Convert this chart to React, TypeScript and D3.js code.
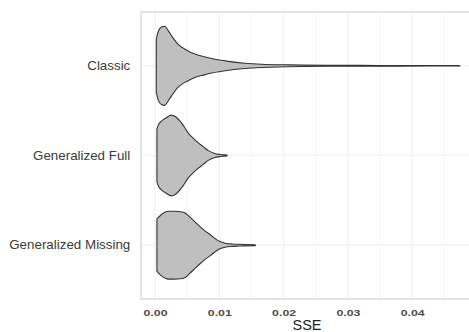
import React, { useRef, useEffect } from 'react';
import * as d3 from 'd3';

// Groups, top to bottom
const categories = ['Classic', 'Generalized Full', 'Generalized Missing'];

// Density profile of each violin (SSE value, relative density)
const classicSSE = [0.0002, 0.0005, 0.001, 0.0015, 0.0021, 0.0026, 0.0036, 0.005, 0.0062, 0.0075, 0.0088, 0.0114, 0.014, 0.0166, 0.0202, 0.023, 0.027, 0.032, 0.038, 0.0474];
const classicDensity = [0.66, 0.85, 0.96, 0.98, 0.86, 0.74, 0.53, 0.38, 0.29, 0.23, 0.18, 0.11, 0.065, 0.04, 0.025, 0.017, 0.012, 0.01, 0.007, 0.005];

const fullSSE = [0.0003, 0.0006, 0.001, 0.0018, 0.0025, 0.0032, 0.0042, 0.0052, 0.006, 0.0067, 0.0075, 0.0083, 0.0093, 0.0102, 0.0112];
const fullDensity = [0.66, 0.78, 0.85, 0.94, 1.0, 0.96, 0.79, 0.55, 0.42, 0.32, 0.22, 0.12, 0.05, 0.025, 0.01];

const missingSSE = [0.0003, 0.001, 0.0016, 0.0021, 0.003, 0.004, 0.0047, 0.0054, 0.0062, 0.007, 0.0078, 0.0086, 0.0093, 0.0101, 0.0109, 0.012, 0.013, 0.014, 0.0156];
const missingDensity = [0.65, 0.76, 0.82, 0.84, 0.84, 0.83, 0.8, 0.7, 0.58, 0.46, 0.35, 0.26, 0.17, 0.09, 0.05, 0.03, 0.022, 0.017, 0.012];

const xTicks = [0, 0.01, 0.02, 0.03, 0.04];
const xMinorTicks = [0.005, 0.015, 0.025, 0.035, 0.045];

const App = () => {
  const ref = useRef<SVGSVGElement>(null);

  const W = 469;
  const H = 332;
  const panel = { left: 141, top: 12, right: 473, bottom: 299 };

  useEffect(() => {
    const svg = d3.select(ref.current);
    svg.selectAll('*').remove();

    const groups = [
      { name: categories[0], sse: classicSSE, dens: classicDensity },
      { name: categories[1], sse: fullSSE, dens: fullDensity },
      { name: categories[2], sse: missingSSE, dens: missingDensity },
    ];

    const x = d3.scaleLinear().domain([0, 0.05]).range([155, 476.5]);

    const y = d3
      .scaleBand()
      .domain(categories)
      .range([panel.top, panel.bottom])
      .paddingInner(0)
      .paddingOuter(0.1);

    const maxD = d3.max(groups, (g) => d3.max(g.dens)) as number;
    const w = d3.scaleLinear().domain([0, maxD]).range([0, y.step() * 0.45]);

    // grid
    const grid = svg.append('g');
    grid
      .selectAll('line.minor')
      .data(xMinorTicks)
      .enter()
      .append('line')
      .attr('x1', (d) => x(d))
      .attr('x2', (d) => x(d))
      .attr('y1', panel.top)
      .attr('y2', panel.bottom)
      .attr('stroke', '#f7f7f7')
      .attr('stroke-width', 1);
    grid
      .selectAll('line.major')
      .data(xTicks)
      .enter()
      .append('line')
      .attr('x1', (d) => x(d))
      .attr('x2', (d) => x(d))
      .attr('y1', panel.top)
      .attr('y2', panel.bottom)
      .attr('stroke', '#f0f0f0')
      .attr('stroke-width', 1.2);
    grid
      .selectAll('line.hy')
      .data(categories)
      .enter()
      .append('line')
      .attr('x1', panel.left)
      .attr('x2', panel.right)
      .attr('y1', (d) => (y(d) as number) + y.bandwidth() / 2)
      .attr('y2', (d) => (y(d) as number) + y.bandwidth() / 2)
      .attr('stroke', '#f0f0f0')
      .attr('stroke-width', 1.2);

    // violins
    groups.forEach((g) => {
      const cy = (y(g.name) as number) + y.bandwidth() / 2;
      const pts = g.sse.map((s, i) => ({ s, d: g.dens[i] }));
      const area = d3
        .area<{ s: number; d: number }>()
        .x((d) => x(d.s))
        .y0((d) => cy - w(d.d))
        .y1((d) => cy + w(d.d))
        .curve(d3.curveMonotoneX);
      svg
        .append('path')
        .datum(pts)
        .attr('d', area)
        .attr('fill', '#bfbfbf')
        .attr('stroke', '#333333')
        .attr('stroke-width', 1.1)
        .attr('stroke-linejoin', 'round');
    });

    // panel border
    svg
      .append('rect')
      .attr('x', panel.left)
      .attr('y', panel.top)
      .attr('width', panel.right - panel.left)
      .attr('height', panel.bottom - panel.top)
      .attr('fill', 'none')
      .attr('stroke', '#d6d6d6')
      .attr('stroke-width', 1.3);

    // x axis
    const xAxis = svg
      .append('g')
      .attr('transform', `translate(0, ${panel.bottom})`)
      .call(d3.axisBottom(x).tickValues(xTicks).tickFormat(d3.format('.2f')).tickSize(0).tickPadding(10));
    xAxis.selectAll('.domain').remove();
    xAxis
      .selectAll('text')
      .style('fill', '#4d4d4d')
      .style('font-family', '"Liberation Sans", Arial, sans-serif')
      .style('font-size', '9.5px')
      .style('font-weight', 'bold')
      .attr('transform', 'scale(1.3,1)');

    // y axis
    const yAxis = svg
      .append('g')
      .attr('transform', `translate(${panel.left}, 0)`)
      .call(d3.axisLeft(y).tickSize(0).tickPadding(10));
    yAxis.selectAll('.domain').remove();
    yAxis
      .selectAll('text')
      .style('fill', '#3a3a3a')
      .style('font-family', '"Liberation Sans", Arial, sans-serif')
      .style('font-size', '12.5px')
      .attr('transform', 'scale(1.07,1)');

    // x title
    svg
      .append('text')
      .attr('x', (panel.left + panel.right) / 2)
      .attr('y', 330)
      .attr('text-anchor', 'middle')
      .style('fill', '#222')
      .style('font-family', '"Liberation Sans", Arial, sans-serif')
      .style('font-size', '14.5px')
      .text('SSE');
  }, []);

  return (
    <div style={{ position: 'absolute', left: 0, top: 0 }}>
      <svg ref={ref} width={W} height={H} style={{ display: 'block', background: '#fff' }} />
    </div>
  );
};

export default App;
